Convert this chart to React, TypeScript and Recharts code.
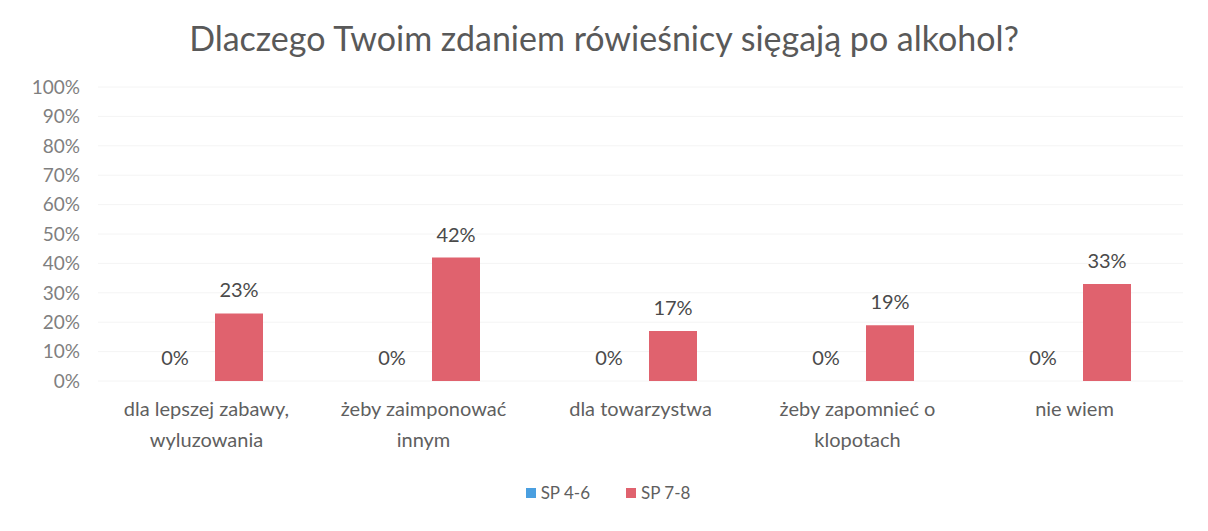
import React from 'react'
import { BarChart, Bar, XAxis, YAxis, CartesianGrid, Legend, LabelList } from 'recharts'

// values (percent)
const categories = [
  'dla lepszej zabawy,\nwyluzowania',
  'żeby zaimponować\ninnym',
  'dla towarzystwa',
  'żeby zapomnieć o\nklopotach',
  'nie wiem',
]
const sp46 = [0, 0, 0, 0, 0]
const sp78 = [23, 42, 17, 19, 33]
const yTicks = [0, 10, 20, 30, 40, 50, 60, 70, 80, 90, 100]

const data = categories.map((name, i) => ({ name, sp46: sp46[i], sp78: sp78[i] }))

const FONT = 'Lato, "Open Sans", sans-serif'

const CategoryTick = (props: any) => {
  const { x, y, payload } = props
  const lines = String(payload.value).split('\n')
  return (
    <g transform={`translate(${x},${y})`}>
      {lines.map((line, i) => (
        <text
          key={i}
          x={0}
          y={19 + i * 31}
          textAnchor="middle"
          dominantBaseline="central"
          fill="#5f5f5f"
          fontSize={20}
          fontFamily={FONT}
        >
          {line}
        </text>
      ))}
    </g>
  )
}

const LegendBox = (props: any) => {
  const { payload } = props
  return (
    <div style={{ display: 'flex', justifyContent: 'center', gap: 36, fontFamily: FONT, fontSize: 17, color: '#5f5f5f', paddingLeft: 8 }}>
      {(payload || []).map((item: any) => (
        <div key={item.value} style={{ display: 'flex', alignItems: 'center' }}>
          <span style={{ display: 'inline-block', width: 10, height: 10, background: item.color, marginRight: 5 }} />
          <span>{item.value}</span>
        </div>
      ))}
    </div>
  )
}

const pct = (v: any) => `${v}%`

export default function App() {
  return (
    <div style={{ position: 'absolute', left: 0, top: 0, width: 1208, height: 531, background: '#fff' }}>
      <div
        style={{
          position: 'absolute',
          top: 17,
          left: 0,
          width: 1208,
          textAlign: 'center',
          fontFamily: FONT,
          fontSize: 34,
          color: '#595959',
        }}
      >
        Dlaczego Twoim zdaniem rówieśnicy sięgają po alkohol?
      </div>
      <BarChart
        width={1208}
        height={531}
        data={data}
        margin={{ top: 87, right: 25, bottom: 120, left: 8 }}
        barCategoryGap={53}
        barGap={16}
      >
        <CartesianGrid vertical={false} stroke="#f4f4f4" />
        <XAxis dataKey="name" axisLine={false} tickLine={false} tick={<CategoryTick />} interval={0} />
        <YAxis
          width={90}
          domain={[0, 100]}
          ticks={yTicks}
          tickFormatter={pct}
          axisLine={false}
          tickLine={false}
          tickMargin={12}
          tick={{ fill: '#7f7f7f', fontSize: 19, fontFamily: FONT }}
        />
        <Legend
          verticalAlign="middle"
          align="center"
          content={<LegendBox />}
          wrapperStyle={{ top: 482, left: 0, width: 1208 }}
        />
        <Bar dataKey="sp46" name="SP 4-6" fill="#4a9fe0" minPointSize={0.1} isAnimationActive={false}>
          <LabelList dataKey="sp46" position="top" offset={16} formatter={pct} fill="#4a4a4a" fontSize={20} fontFamily={FONT} />
        </Bar>
        <Bar dataKey="sp78" name="SP 7-8" fill="#e0626e" isAnimationActive={false}>
          <LabelList dataKey="sp78" position="top" offset={16} formatter={pct} fill="#4a4a4a" fontSize={20} fontFamily={FONT} />
        </Bar>
      </BarChart>
    </div>
  )
}
